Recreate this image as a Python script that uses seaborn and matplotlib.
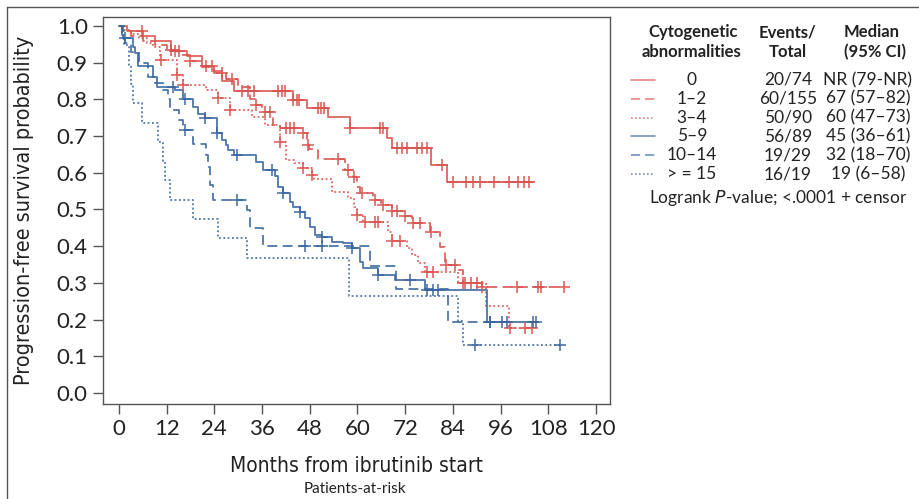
import numpy as np
import pandas as pd
import matplotlib
matplotlib.use("Agg")
import matplotlib.pyplot as plt
from matplotlib.lines import Line2D
import seaborn as sns

# ---- legend table ----
groups = ["0", "1–2", "3–4", "5–9", "10–14", "> = 15"]
events_total = ["20/74", "60/155", "50/90", "56/89", "19/29", "16/19"]
medians = ["NR (79-NR)", "67 (57–82)", "60 (47–73)", "45 (36–61)",
           "32 (18–70)", "19 (6–58)"]

# ---- Kaplan-Meier step curves (months, survival) and censor times ----
t_0 = [0, 2, 6, 9, 13, 17, 21, 24, 26, 29, 43.8, 47.2, 52.6, 58.1, 67.3,
       68.8, 78.6, 82.4]
s_0 = [1.0, 0.986, 0.973, 0.959, 0.932, 0.918, 0.891, 0.877, 0.85, 0.822,
       0.798, 0.777, 0.751, 0.723, 0.694, 0.667, 0.621, 0.574]
end_0 = 104.2
cens_0 = [5.7, 14, 15, 22, 23.5, 31, 32.5, 34, 40, 40.9, 41.8, 43.9, 44.7,
          45.4, 50.1, 50.8, 51.6, 58.1, 65.7, 66.5, 70, 71.3, 72.5, 75, 76.1,
          77.4, 81.2, 83.9, 87.3, 89, 90.8, 94.3, 98.1, 100.3, 101.9, 103.2]

t_12 = [0, 1, 3, 6, 9, 12, 15, 18, 21, 24, 27, 30, 33, 34.5, 36, 38.8, 40.5,
        46, 47.2, 47.8, 50, 56.9, 58.8, 59.8, 60.6, 64, 66, 68.6, 72, 73.6,
        78.2, 80.8, 82, 85, 86.5, 91.2]
s_12 = [1.0, 0.987, 0.974, 0.96, 0.947, 0.934, 0.921, 0.905, 0.889, 0.872,
        0.855, 0.835, 0.80, 0.785, 0.767, 0.73, 0.722, 0.709, 0.676, 0.665,
        0.638, 0.608, 0.589, 0.562, 0.545, 0.526, 0.512, 0.497, 0.482, 0.462,
        0.44, 0.399, 0.349, 0.335, 0.299, 0.288]
end_12 = 112
cens_12 = [13, 18, 26, 28.4, 34.6, 36.7, 38, 42, 43, 44, 46.3, 47.5, 55.1,
           57.5, 59.2, 61.2, 64.4, 66.5, 68.6, 70, 72, 74, 75.7, 78.5, 82.3,
           84.5, 87, 88.5, 90, 91.2, 100, 105.5, 106.1, 111.9]

t_34 = [0, 1, 3, 5, 7, 8.5, 10.3, 14.5, 16, 22, 25, 28, 33.4, 36.7, 40.5, 42,
        44, 46.3, 48.5, 49, 53.5, 57.6, 59, 60, 61.5, 67.7, 68.6, 72.4, 73.6,
        75.3, 77, 85.4, 92.2, 98.2]
s_34 = [1.0, 0.989, 0.977, 0.966, 0.955, 0.943, 0.907, 0.866, 0.839, 0.826,
        0.804, 0.771, 0.753, 0.73, 0.685, 0.635, 0.627, 0.613, 0.594, 0.583,
        0.549, 0.531, 0.508, 0.485, 0.467, 0.44, 0.415, 0.394, 0.376, 0.354,
        0.33, 0.299, 0.237, 0.178]
end_34 = 104
cens_34 = [10.5, 14.5, 16, 25, 28, 40.5, 46.3, 48.5, 60, 62, 64.5, 65.2, 68.6,
           70.7, 77.4, 79, 86.5, 98.4, 102, 103.8]

t_59 = [0, 0.7, 1, 3.6, 4, 4.8, 8.6, 9.5, 14, 16, 18.6, 20, 21.6, 24.6, 26,
        27, 27.5, 29, 34.6, 36.3, 39.2, 40, 41.3, 43, 43.8, 45.5, 46.8, 48,
        49.3, 51, 53.5, 56.4, 58.5, 60.6, 61.5, 65.2, 69.4, 77, 92.5]
s_59 = [1.0, 0.975, 0.966, 0.944, 0.926, 0.89, 0.862, 0.835, 0.826, 0.80,
        0.78, 0.76, 0.749, 0.708, 0.69, 0.676, 0.662, 0.648, 0.63, 0.608,
        0.59, 0.562, 0.544, 0.521, 0.508, 0.494, 0.476, 0.453, 0.43, 0.424,
        0.412, 0.408, 0.394, 0.358, 0.34, 0.322, 0.308, 0.281, 0.194]
end_59 = 105.5
cens_59 = [1.5, 13.6, 16.6, 21.6, 24.6, 29.6, 38.4, 41.3, 45.5, 51, 58.5,
           65.2, 73.2, 77.4, 79, 80.3, 93.3, 96.3, 97.7, 104.2, 104.9]

t_1014 = [0, 0.8, 1.5, 3, 5, 7.4, 9, 11, 12.4, 12.8, 15, 16, 18.7, 22, 22.5,
          22.9, 23.7, 32.1, 33, 36.3, 63.1, 69.8, 82.8]
s_1014 = [1.0, 0.966, 0.953, 0.93, 0.9, 0.862, 0.844, 0.826, 0.8, 0.771,
          0.745, 0.717, 0.678, 0.648, 0.617, 0.567, 0.526, 0.499, 0.449, 0.40,
          0.346, 0.283, 0.193]
end_1014 = 93.3
cens_1014 = [16.6, 29.6, 46.8, 51, 93.3]

t_15 = [0, 1.2, 2.6, 3.1, 3.6, 5.7, 9.9, 11.2, 11.6, 12.8, 18.7, 25, 32.1,
        57.9, 85.4, 86.6]
s_15 = [1.0, 0.947, 0.895, 0.842, 0.789, 0.737, 0.684, 0.632, 0.579, 0.526,
        0.474, 0.421, 0.368, 0.263, 0.197, 0.131]
end_15 = 111
cens_15 = [89.6, 111]

x_ticks = list(range(0, 121, 12))
y_ticks = [round(0.1 * i, 1) for i in range(11)]

RED = "#d9534f"
BLUE = "#3a66a0"
DASH = (0, (5.5, 3))
DOT = (0, (1, 1.4))

curves = [
    (t_0, s_0, end_0, cens_0, RED, "-"),
    (t_12, s_12, end_12, cens_12, RED, DASH),
    (t_34, s_34, end_34, cens_34, RED, DOT),
    (t_59, s_59, end_59, cens_59, BLUE, "-"),
    (t_1014, s_1014, end_1014, cens_1014, BLUE, DASH),
    (t_15, s_15, end_15, cens_15, BLUE, DOT),
]

sns.set_style("ticks")
plt.rcParams["font.family"] = ["Lato", "DejaVu Sans"]

fig = plt.figure(figsize=(9.2, 4.99), dpi=100)
ax = fig.add_axes([103 / 920, 1 - 404 / 499, 507 / 920, 387 / 499])

for t, s, end, cens, color, ls in curves:
    df = pd.DataFrame({"month": list(t) + [end], "surv": list(s) + [s[-1]]})
    sns.lineplot(data=df, x="month", y="surv", drawstyle="steps-post",
                 estimator=None, sort=False, color=color, linestyle=ls,
                 lw=1.3, alpha=0.9, ax=ax)
    idx = np.searchsorted(t, cens, side="right") - 1
    cdf = pd.DataFrame({"month": cens, "surv": np.asarray(s)[idx]})
    sns.scatterplot(data=cdf, x="month", y="surv", marker="+", s=70,
                    color=color, linewidth=1.2, alpha=0.9, ax=ax, zorder=3)

ax.set_xlim(-4, 123.5)
ax.set_ylim(-0.03, 1.0245)
ax.set_xticks(x_ticks)
ax.set_yticks(y_ticks)
ax.set_xticklabels([str(v) for v in x_ticks])
ax.set_yticklabels([f"{v:.1f}" for v in y_ticks])
ax.tick_params(axis="both", direction="out", length=7, width=1,
               color="#555555", labelsize=16, labelcolor="#222222", pad=4)
for sp in ax.spines.values():
    sp.set_visible(True)
    sp.set_color("#555555")
    sp.set_linewidth(1)

narrow = dict(family=["DejaVu Sans"], stretch="condensed", color="#222222")
ax.set_xlabel("Months from ibrutinib start", fontsize=15, labelpad=12,
              **narrow)
ax.set_ylabel("Progression-free survival probability", fontsize=15.5,
              labelpad=16, **narrow)

fig.text(355 / 920, 1 - 489 / 499, "Patients-at-risk", ha="center",
         va="center", fontsize=11, color="#222222")

# panel frame lines
fig.add_artist(Line2D([7.5 / 920, 7.5 / 920], [0, 1 - 7 / 499],
                      transform=fig.transFigure, color="#555555", lw=1))
fig.add_artist(Line2D([7.5 / 920, 1], [1 - 7 / 499, 1 - 7 / 499],
                      transform=fig.transFigure, color="#555555", lw=1))


# ---- legend table ----
def fx(px):
    return px / 920


def fy(py):
    return 1 - py / 499


hdr = dict(ha="center", va="center", fontsize=12, fontweight="bold",
           color="#222222")
fig.text(fx(693), fy(32), "Cytogenetic", **hdr)
fig.text(fx(692), fy(52), "abnormalities", **hdr)
fig.text(fx(788), fy(32), "Events/", **hdr)
fig.text(fx(788), fy(52), "Total", **hdr)
fig.text(fx(872), fy(32), "Median", **hdr)
fig.text(fx(875), fy(52), "(95% CI)", **hdr)

row_y = [80, 98.8, 117.6, 136.4, 155.2, 174]
cell = dict(ha="center", va="center", fontsize=12.5, color="#222222")
for (t, s, end, cens, color, ls), g, et, med, yy in zip(
        curves, groups, events_total, medians, row_y):
    fig.add_artist(Line2D([fx(631), fx(655)], [fy(yy), fy(yy)],
                          transform=fig.transFigure, color=color,
                          linestyle=ls, lw=1.2, alpha=0.7))
    fig.text(fx(692), fy(yy), g, **cell)
    fig.text(fx(788), fy(yy), et, **cell)
    fig.text(fx(868), fy(yy), med, **cell)

fig.text(fx(778), fy(198), "Logrank $\\it{P}$-value; <.0001 + censor",
         ha="center", va="center", fontsize=12.5, color="#222222")

fig.savefig("out.png", dpi=100)
